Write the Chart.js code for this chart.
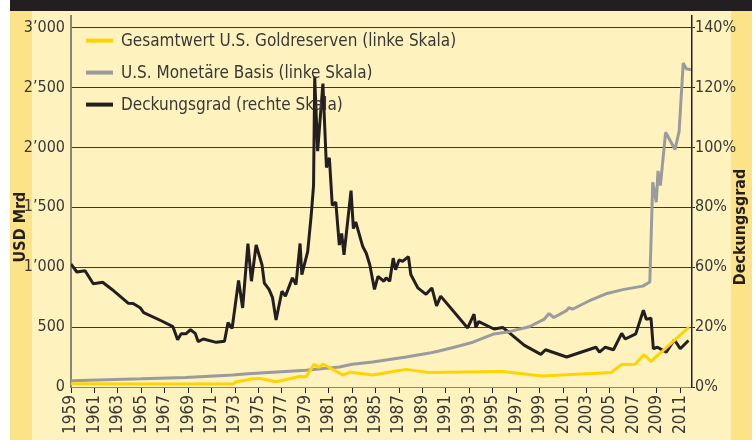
<!DOCTYPE html>
<html>
<head>
<meta charset="utf-8">
<script src="https://cdn.jsdelivr.net/npm/chart.js@4.4.1/dist/chart.umd.min.js"></script>
<style>
  body {
    margin: 0;
    width: 756px;
    height: 440px;
    overflow: hidden;
    background: linear-gradient(to right, #fff 0 10px, #fde388 10px 32px, #fef2bf 32px 731px, #fde388 731px 752px, #fff 752px);
  }
  #bar { position: absolute; left: 10px; top: 0; width: 742px; height: 11px; background: #231f20; }
  #myChart { position: absolute; left: 0; top: 0; }
</style>
</head>
<body>
<div id="bar"></div>
<canvas id="myChart" width="756" height="440"></canvas>
<script>
// Daten
const goldYears = [1959, 1965, 1972.8, 1973.1, 1973.65, 1974.4, 1975.1, 1976.5, 1978.5, 1979.05, 1979.75, 1980.15, 1980.5, 1981.05, 1982.2, 1982.9, 1984.75, 1986.75, 1987.6, 1989.6, 1995.85, 1999.2, 2005.1, 2006.0, 2007.15, 2007.9, 2008.5, 2011.75];
const goldValues = [28, 26, 24, 44, 52, 66, 72, 44, 88, 85, 190, 163, 192, 163, 101, 124, 101, 134, 147, 120, 129, 91, 121, 188, 189, 271, 213, 500];

const baseYears = [1959, 1962, 1965, 1968.8, 1972.8, 1974.1, 1979.05, 1981.9, 1983, 1984.75, 1987.6, 1989.6, 1990.4, 1991.7, 1993.3, 1995.1, 1996.4, 1998.1, 1999.4, 1999.8, 2000.2, 2001.25, 2001.5, 2001.8, 2003.2, 2004.65, 2006.2, 2007.8, 2008.4, 2008.65, 2008.95, 2009.1, 2009.3, 2009.75, 2010.55, 2010.9, 2011.25, 2011.5, 2011.9];
const baseValues = [52, 60, 68, 80, 100, 111, 140, 167, 190, 209, 250, 283, 300, 332, 374, 443, 462, 503, 567, 613, 580, 635, 662, 649, 718, 778, 815, 842, 877, 1708, 1543, 1804, 1681, 2126, 1982, 2134, 2704, 2657, 2648];

const coverYears = [1959, 1959.5, 1960.2, 1960.9, 1961.7, 1962.5, 1963.9, 1964.3, 1964.9, 1965.2, 1966.7, 1967.7, 1968.1, 1968.4, 1968.8, 1969.2, 1969.6, 1969.85, 1970.3, 1971.4, 1972.1, 1972.4, 1972.75, 1973.3, 1973.65, 1974.1, 1974.4, 1974.8, 1975.3, 1975.5, 1975.9, 1976.2, 1976.5, 1977.0, 1977.3, 1977.9, 1978.2, 1978.55, 1978.7, 1979.2, 1979.5, 1979.7, 1979.8, 1980.05, 1980.5, 1980.8, 1981.05, 1981.3, 1981.6, 1981.9, 1982.1, 1982.3, 1982.9, 1983.1, 1983.3, 1983.9, 1984.2, 1984.5, 1984.9, 1985.2, 1985.7, 1985.9, 1986.2, 1986.5, 1986.7, 1987.0, 1987.3, 1987.8, 1988.0, 1988.6, 1989.3, 1989.8, 1990.2, 1990.55, 1992.85, 1993.4, 1993.55, 1993.8, 1995.1, 1995.85, 1997.7, 1999.1, 1999.5, 2001.3, 2003.8, 2004.1, 2004.6, 2005.3, 2006.0, 2006.3, 2007.2, 2007.85, 2008.1, 2008.5, 2008.7, 2009.05, 2009.8, 2010.5, 2011.0, 2011.7];
const coverValues = [47.9, 44.8, 45.3, 40.2, 40.8, 38.0, 32.6, 32.5, 30.9, 29.0, 25.8, 23.5, 18.4, 20.7, 20.7, 22.3, 20.9, 17.7, 18.7, 17.4, 17.8, 25.1, 22.8, 41.5, 30.8, 55.8, 41.2, 55.3, 47.6, 40.5, 38.0, 34.8, 26.1, 37.3, 35.4, 42.5, 39.9, 55.9, 43.8, 52.7, 66.9, 78.4, 120.8, 91.9, 118.2, 85.5, 89.3, 70.7, 72.0, 55.3, 59.8, 51.5, 76.5, 61.7, 64.3, 54.7, 52.1, 47.6, 38.0, 43.1, 41.2, 42.5, 41.2, 50.2, 45.7, 49.5, 48.9, 50.8, 43.8, 38.6, 36.1, 38.6, 31.6, 35.4, 23.0, 28.4, 23.2, 25.5, 22.6, 23.2, 16.2, 12.7, 14.5, 11.7, 15.5, 13.6, 15.5, 14.5, 20.9, 18.7, 20.7, 29.9, 26.4, 26.8, 14.9, 15.5, 13.6, 18.4, 14.9, 18.1];

const xTickYears = [1959, 1961, 1963, 1965, 1967, 1969, 1971, 1973, 1975, 1977, 1979, 1981, 1983, 1985, 1987, 1989, 1991, 1993, 1995, 1997, 1999, 2001, 2003, 2005, 2007, 2009, 2011];
const leftTicks = [0, 500, 1000, 1500, 2000, 2500, 3000];
const rightTickLabels = ['0%', '20%', '60%', '80%', '100%', '120%', '140%'];

const seriesLabels = ['Gesamtwert U.S. Goldreserven (linke Skala)', 'U.S. Monetäre Basis (linke Skala)', 'Deckungsgrad (rechte Skala)'];
const leftTitle = 'USD Mrd';
const rightTitle = 'Deckungsgrad';

const FONT = "'Liberation Sans Narrow', 'Arial Narrow', 'DejaVu Sans Condensed', sans-serif";
const TEXT = '#3a3735';
const LEFT_MAX = 3100;
const RIGHT_MAX = 140 * LEFT_MAX / 3000;

function toPoints(xs, ys) {
  return xs.map((x, i) => ({ x: x, y: ys[i] }));
}

function fmtThousands(v) {
  if (v < 1000) return String(v);
  return Math.floor(v / 1000) + '\u2019' + String(v % 1000).padStart(3, '0');
}

// Achsentitel und Legende
const frameText = {
  id: 'frameText',
  afterDraw(chart) {
    const c = chart.ctx;
    const area = chart.chartArea;
    c.save();
    c.fillStyle = '#231f20';
    c.font = 'bold 16px ' + FONT;
    c.textAlign = 'center';
    c.textBaseline = 'middle';
    c.save();
    c.translate(21, 227);
    c.rotate(-Math.PI / 2);
    c.fillText(leftTitle, 0, 0);
    c.restore();
    c.save();
    c.translate(741, 227);
    c.rotate(-Math.PI / 2);
    c.fillText(rightTitle, 0, 0);
    c.restore();

    c.font = '17px ' + FONT;
    c.textAlign = 'left';
    chart.data.datasets.forEach((ds, i) => {
      const y = area.top + 25 + i * 32;
      c.strokeStyle = ds.borderColor;
      c.lineWidth = 4;
      c.beginPath();
      c.moveTo(area.left + 15, y);
      c.lineTo(area.left + 42, y);
      c.stroke();
      c.fillStyle = TEXT;
      c.fillText(ds.label, area.left + 50, y + 1);
    });
    c.restore();
  }
};

var ctx = document.getElementById('myChart').getContext('2d');
var myChart = new Chart(ctx, {
  type: 'line',
  data: {
    datasets: [{
      label: seriesLabels[0],
      data: toPoints(goldYears, goldValues),
      borderColor: '#ffd400',
      borderWidth: 3,
      yAxisID: 'y'
    }, {
      label: seriesLabels[1],
      data: toPoints(baseYears, baseValues),
      borderColor: '#9a9b9e',
      borderWidth: 3,
      yAxisID: 'y'
    }, {
      label: seriesLabels[2],
      data: toPoints(coverYears, coverValues),
      borderColor: '#231f20',
      borderWidth: 3,
      yAxisID: 'y1'
    }]
  },
  options: {
    responsive: false,
    animation: false,
    layout: { padding: { top: 11, left: 0, right: 0, bottom: 0 } },
    elements: {
      point: { radius: 0 },
      line: { tension: 0, borderJoinStyle: 'bevel' }
    },
    plugins: {
      legend: { display: false },
      tooltip: { enabled: false }
    },
    scales: {
      x: {
        type: 'linear',
        min: 1959,
        max: 2012,
        afterBuildTicks: (s) => { s.ticks = xTickYears.map(v => ({ value: v })); },
        afterFit: (s) => { s.height = 53; },
        border: { color: '#8c8478', width: 1 },
        grid: { drawOnChartArea: false, tickLength: 6, color: '#231f20', lineWidth: 1 },
        ticks: {
          autoSkip: false,
          minRotation: 90,
          maxRotation: 90,
          padding: 2,
          color: TEXT,
          font: { family: FONT, size: 17 },
          callback: (v) => String(v)
        }
      },
      y: {
        position: 'left',
        min: 0,
        max: LEFT_MAX,
        afterBuildTicks: (s) => { s.ticks = leftTicks.map(v => ({ value: v })); },
        afterFit: (s) => { s.width = 71; },
        border: { color: '#8c8478', width: 2 },
        grid: {
          drawTicks: false,
          lineWidth: 1,
          color: (c) => c.tick && c.tick.value === 0 ? '#8c8478' : '#3d3935'
        },
        ticks: {
          padding: 6,
          color: TEXT,
          font: { family: FONT, size: 16 },
          callback: (v) => fmtThousands(v)
        }
      },
      y1: {
        position: 'right',
        min: 0,
        max: RIGHT_MAX,
        afterBuildTicks: (s) => { s.ticks = rightTickLabels.map((l, i) => ({ value: i * 140 / 6 })); },
        afterFit: (s) => { s.width = 64; },
        border: { color: '#231f20', width: 1.5 },
        grid: { drawOnChartArea: false, tickLength: 3, color: '#231f20' },
        ticks: {
          padding: 0,
          color: TEXT,
          font: { family: FONT, size: 16 },
          callback: (v, i) => rightTickLabels[i]
        }
      }
    }
  },
  plugins: [frameText]
});
</script>
</body>
</html>
